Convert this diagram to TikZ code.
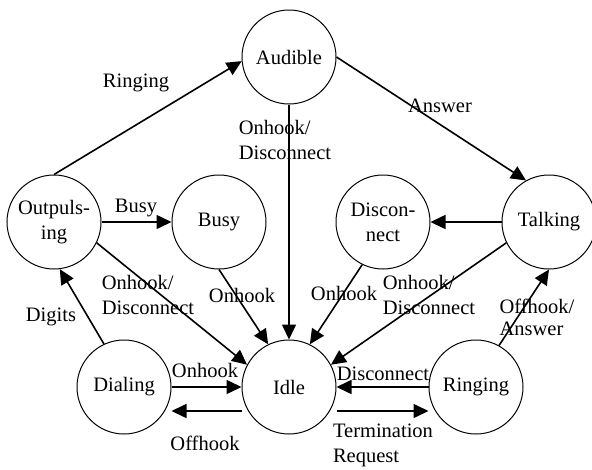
\documentclass[tikz,border=0pt]{standalone}
\usepackage{fontspec}
\setmainfont{Liberation Serif}
\usetikzlibrary{arrows.meta}

\begin{document}
\begin{tikzpicture}[x=1pt,y=-1pt,
        every node/.style={font=\fontsize{20.5}{25}\selectfont},
        statestyle/.style={circle,draw,line width=1pt,minimum size=94,inner sep=0,align=center},
        edgestyle/.style={line width=1.6pt,-{Triangle[length=15pt,width=14pt]}},
        labelstyle/.style={inner sep=0,align=left}]
        \useasboundingbox (0,0) rectangle (592,469);

        \foreach \n/\x/\y/\txt in {audible/289/57/Audible, outpulsing/54/222/{Outpuls-\\ing},
                busy/219/222/Busy, disconnect/383/222/{Discon-\\nect}, talking/549/222/Talking,
                dialing/124/387/Dialing, idle/289/387/Idle, ringing/476/387/Ringing}{
            \node [statestyle] (\n) at (\x,\y) {\txt};
        }

        \draw [edgestyle] (outpulsing.north) -- (audible.185);
        \draw [edgestyle] (audible.east) -- (talking.119);
        \draw [edgestyle] (audible) -- (idle);
        \draw [edgestyle] (outpulsing) -- (busy);
        \draw [edgestyle] (talking) -- (disconnect);
        \draw [edgestyle] (outpulsing.-26) -- (idle.152);
        \draw [edgestyle] (busy.south) -- (idle.116);
        \draw [edgestyle] (disconnect.244) -- (idle.64);
        \draw [edgestyle] (talking.206) -- (idle.28);
        \draw [edgestyle] (ringing.61) -- (talking.south);
        \draw [edgestyle] (dialing.115) -- (outpulsing.-83);
        \draw [edgestyle] (dialing) -- (idle);
        \draw [edgestyle] ([yshift=-24pt]idle.west) -- ([yshift=-24pt]dialing.east);
        \draw [edgestyle] (ringing) -- (idle);
        \draw [edgestyle] ([yshift=-24pt]idle.east) -- ([yshift=-24pt]ringing.west);

        \node [labelstyle] (lbringing) at (136,83) {Ringing};
        \node [labelstyle] (lbanswer) at (440,106) {Answer};
        \node [labelstyle] (lbaudidle) at (285,140) {Onhook/\\Disconnect};
        \node [labelstyle] (lbbusy) at (136,208) {Busy};
        \node [labelstyle] (lboutidle) at (148,295) {Onhook/\\Disconnect};
        \node [labelstyle] (lbbusyidle) at (242,295) {Onhook};
        \node [labelstyle] (lbdisidle) at (344,293) {Onhook};
        \node [labelstyle] (lbtalkidle) at (429,295) {Onhook/\\Disconnect};
        \node [labelstyle,font=\fontsize{20.5}{22}\selectfont] (lboffans) at (537,317) {Offhook/\\Answer};
        \node [labelstyle] (lbdigits) at (51,317) {Digits};
        \node [labelstyle] (lbdialonhook) at (205,370) {Onhook};
        \node [labelstyle] (lboffhook) at (205,443) {Offhook};
        \node [labelstyle] (lbdiscon) at (383,374) {Disconnect};
        \node [labelstyle] (lbterm) at (383,445) {Termination\\Request};
    \end{tikzpicture}
\end{document}
